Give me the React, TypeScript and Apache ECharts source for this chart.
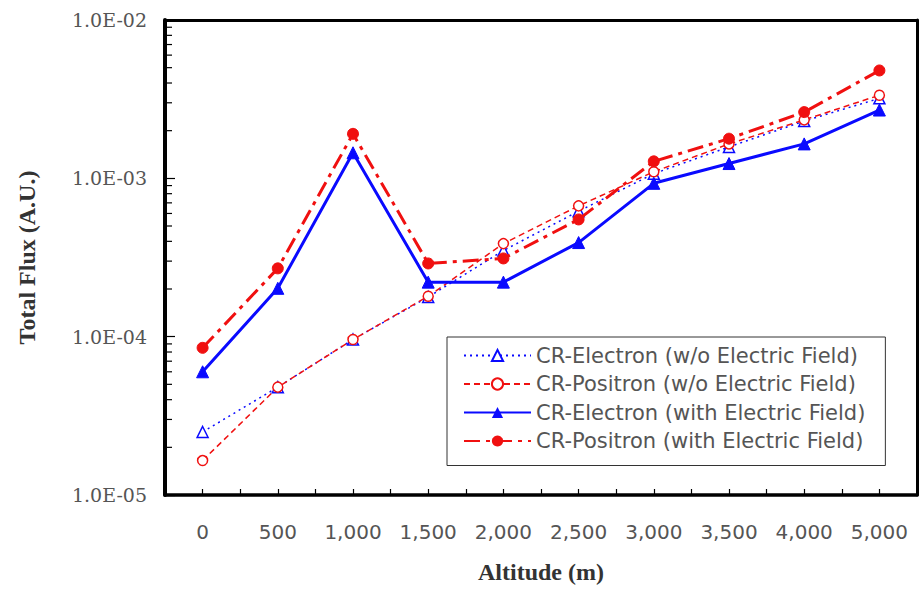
import React, { useEffect, useRef } from "react";
import * as echarts from "echarts";

const categories = ["0", "500", "1,000", "1,500", "2,000", "2,500", "3,000", "3,500", "4,000", "5,000"];
const electronNoField = [2.5e-5, 4.8e-5, 9.6e-5, 1.78e-4, 3.5e-4, 6.2e-4, 1.07e-3, 1.58e-3, 2.3e-3, 3.2e-3];
const positronNoField = [1.65e-5, 4.8e-5, 9.6e-5, 1.8e-4, 3.87e-4, 6.7e-4, 1.1e-3, 1.65e-3, 2.34e-3, 3.35e-3];
const electronField = [6.0e-5, 2.02e-4, 1.45e-3, 2.21e-4, 2.21e-4, 3.93e-4, 9.3e-4, 1.24e-3, 1.65e-3, 2.7e-3];
const positronField = [8.5e-5, 2.7e-4, 1.91e-3, 2.9e-4, 3.12e-4, 5.5e-4, 1.28e-3, 1.78e-3, 2.62e-3, 4.8e-3];
const seriesNames = [
  "CR-Electron (w/o Electric Field)",
  "CR-Positron (w/o Electric Field)",
  "CR-Electron (with Electric Field)",
  "CR-Positron (with Electric Field)",
];
const minorTickValues = [2, 3, 4, 5, 6, 7, 8, 9].flatMap((m) => [m * 1e-5, m * 1e-4, m * 1e-3]);
const halfTickSlots = Array.from({ length: 20 }, (_, i) => "s" + i);

const BLUE = "#0a0aff";
const RED = "#f01010";
const SERIF = "'DejaVu Serif', 'Liberation Serif', serif";
const BOLDSERIF = "'Liberation Serif', 'DejaVu Serif', serif";
const SANS = "'DejaVu Sans', 'Noto Sans', sans-serif";

function fmtExp(v: number): string {
  const e = Math.round(Math.log10(v));
  const m = v / Math.pow(10, e);
  const sign = e < 0 ? "-" : "+";
  const ae = Math.abs(e);
  return m.toFixed(1) + "E" + sign + (ae < 10 ? "0" + ae : String(ae));
}

export default function App() {
  const ref = useRef<HTMLDivElement>(null);
  useEffect(() => {
    if (!ref.current) return;
    const chart = echarts.init(ref.current, null, { renderer: "svg" });
    chart.setOption({
      animation: false,
      backgroundColor: "#fff",
      grid: { left: 165, right: 3, top: 20, bottom: 91 },
      legend: {
        orient: "vertical",
        left: 447,
        top: 337,
        data: seriesNames,
        itemWidth: 67,
        itemHeight: 14,
        itemGap: 7.5,
        padding: [8, 20, 14, 16],
        borderColor: "#333",
        borderWidth: 1,
        backgroundColor: "#fff",
        textStyle: { fontFamily: SANS, fontSize: 21, color: "#555" },
      },
      xAxis: [
        {
          type: "category",
          data: categories,
          boundaryGap: true,
          axisLine: { show: true, lineStyle: { color: "#000", width: 3.5 } },
          axisTick: { show: false },
          axisLabel: { margin: 27, fontFamily: SANS, fontSize: 20, color: "#555", interval: 0 },
          name: "Altitude (m)",
          nameLocation: "middle",
          nameGap: 65,
          nameTextStyle: { fontFamily: BOLDSERIF, fontSize: 24, fontWeight: "bold", color: "#333" },
          z: 5,
        },
        {
          type: "category",
          data: halfTickSlots,
          position: "bottom",
          boundaryGap: true,
          axisLine: { show: false },
          axisLabel: { show: false },
          axisTick: { show: true, inside: true, length: 6, interval: 0, lineStyle: { color: "#000", width: 1.2 } },
        },
        {
          type: "category",
          data: categories,
          position: "top",
          axisLine: { show: true, lineStyle: { color: "#000", width: 3 } },
          axisLabel: { show: false },
          axisTick: { show: false },
        },
      ],
      yAxis: [
        {
          type: "log",
          logBase: 10,
          min: 1e-5,
          max: 1e-2,
          splitLine: { show: false },
          axisLine: { show: true, lineStyle: { color: "#000", width: 4 } },
          axisTick: { show: true, inside: true, length: 10, lineStyle: { color: "#000", width: 1.2 } },
          axisLabel: { margin: 18, fontFamily: SERIF, fontSize: 19, color: "#555", formatter: (v: number) => fmtExp(v) },
          name: "Total Flux (A.U.)",
          nameLocation: "middle",
          nameGap: 126,
          nameTextStyle: { fontFamily: BOLDSERIF, fontSize: 24, fontWeight: "bold", color: "#333" },
          z: 5,
        },
        {
          type: "log",
          logBase: 10,
          min: 1e-5,
          max: 1e-2,
          position: "right",
          splitLine: { show: false },
          axisLine: { show: true, lineStyle: { color: "#000", width: 3 } },
          axisTick: { show: false },
          axisLabel: { show: false },
        },
      ],
      series: [
        {
          type: "custom",
          name: "minorTicks",
          silent: true,
          xAxisIndex: 0,
          yAxisIndex: 0,
          z: 6,
          data: minorTickValues.map((v) => [0, v]),
          renderItem: (params: any, api: any) => {
            const y = api.coord([0, api.value(1)])[1];
            const left = params.coordSys.x;
            return {
              type: "line",
              shape: { x1: left, y1: y, x2: left + 7, y2: y },
              style: { stroke: "#000", lineWidth: 1.2 },
            };
          },
        },
        {
          name: seriesNames[0],
          type: "line",
          data: electronNoField,
          symbol: "triangle",
          symbolSize: 11,
          itemStyle: { color: "#fff", borderColor: BLUE, borderWidth: 1.5 },
          lineStyle: { color: BLUE, width: 1.5, type: [2, 4] },
          z: 3,
        },
        {
          name: seriesNames[1],
          type: "line",
          data: positronNoField,
          symbol: "circle",
          symbolSize: 10,
          itemStyle: { color: "#fff", borderColor: RED, borderWidth: 1.5 },
          lineStyle: { color: RED, width: 1.5, type: [6, 4] },
          z: 3,
        },
        {
          name: seriesNames[2],
          type: "line",
          data: electronField,
          symbol: "triangle",
          symbolSize: 12,
          itemStyle: { color: BLUE, borderColor: BLUE },
          lineStyle: { color: BLUE, width: 3, type: "solid" },
          z: 4,
        },
        {
          name: seriesNames[3],
          type: "line",
          data: positronField,
          symbol: "circle",
          symbolSize: 11,
          itemStyle: { color: RED, borderColor: RED },
          lineStyle: { color: RED, width: 3, type: [16, 6, 4, 6] },
          z: 4,
        },
      ],
    });
    return () => chart.dispose();
  }, []);
  return <div ref={ref} style={{ position: "absolute", left: 0, top: 0, width: 920, height: 589 }} />;
}
